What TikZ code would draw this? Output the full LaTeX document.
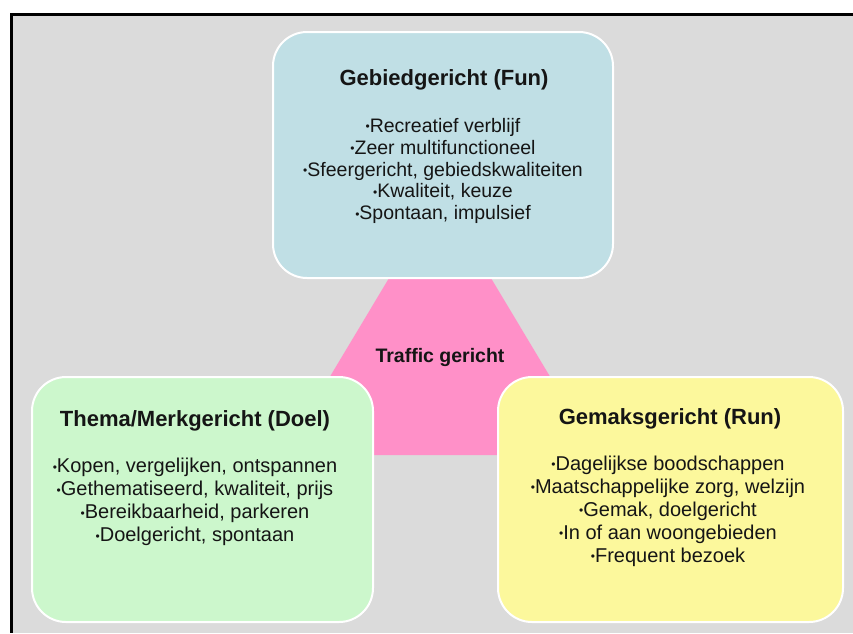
\documentclass[tikz,border=0pt]{standalone}
\usepackage{fontspec}
\setmainfont{Liberation Sans}
\definecolor{bggray}{HTML}{DBDBDB}
\definecolor{funblue}{HTML}{C0DFE5}
\definecolor{doelgreen}{HTML}{CCF7CC}
\definecolor{runyellow}{HTML}{FCF89C}
\definecolor{trafpink}{HTML}{FF90C8}
\definecolor{txt}{HTML}{151515}
\newcommand{\bl}{\raisebox{1.5pt}{\fontsize{12pt}{12pt}\selectfont •}}
\tikzset{
  card/.style={rounded corners=34pt, draw=white, line width=2pt, inner sep=0pt},
  cardtitle/.style={font=\fontsize{22pt}{25pt}\selectfont\bfseries, text=txt, inner sep=0pt},
  cardlist/.style={font=\fontsize{20pt}{23pt}\selectfont, text=txt, align=center, inner sep=0pt},
}
\begin{document}
\begin{tikzpicture}[x=1pt,y=-1pt]
\useasboundingbox (0,0) rectangle (853,633);
\fill[white] (0,0) rectangle (853,633);
\fill[black] (10,13) rectangle (853,633);
\fill[bggray] (13,16) rectangle (853,633);
% triangle
\coordinate (tA) at (440,193);
\coordinate (tL) at (283,455);
\coordinate (tR) at (597,455);
\fill[trafpink] (tA) -- (tL) -- (tR) -- cycle;
\node[font=\fontsize{19.5pt}{22pt}\selectfont\bfseries, text=txt, inner sep=0pt] (traffic) at (440,357) {Traffic gericht};
% boxes
\node[card, fill=funblue, minimum width=340pt, minimum height=246pt] (fun) at (443,155) {};
\node[card, fill=doelgreen, minimum width=341pt, minimum height=245pt] (doel) at (202.5,499.5) {};
\node[card, fill=runyellow, minimum width=345pt, minimum height=245pt] (run) at (670.5,499.5) {};
% texts
\node[cardtitle] (funT) at (444,80) {Gebiedgericht (Fun)};
\node[cardlist, font=\fontsize{19.5pt}{21.8pt}\selectfont] (funL) at (443,171) {\bl Recreatief verblijf\\ \bl Zeer multifunctioneel\\ \bl Sfeergericht, gebiedskwaliteiten\\ \bl Kwaliteit, keuze\\ \bl Spontaan, impulsief};
\node[cardtitle] (doelT) at (195,421) {Thema/Merkgericht (Doel)};
\node[cardlist] (doelL) at (195,502) {\bl Kopen, vergelijken, ontspannen\\ \bl Gethematiseerd, kwaliteit, prijs\\ \bl Bereikbaarheid, parkeren\\ \bl Doelgericht, spontaan};
\node[cardtitle] (runT) at (670,419) {Gemaksgericht (Run)};
\node[cardlist] (runL) at (668,511) {\bl Dagelijkse boodschappen\\ \bl Maatschappelijke zorg, welzijn\\ \bl Gemak, doelgericht\\ \bl In of aan woongebieden\\ \bl Frequent bezoek};
\end{tikzpicture}
\end{document}
